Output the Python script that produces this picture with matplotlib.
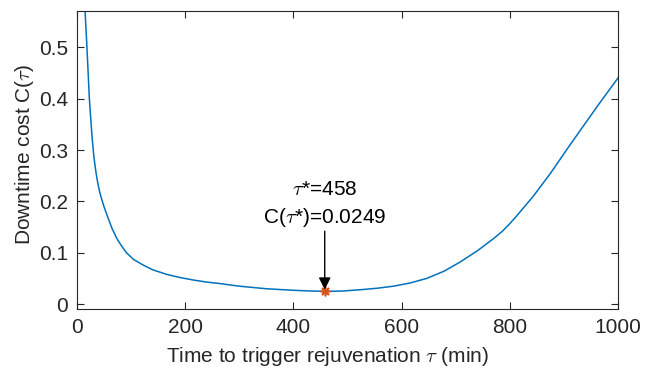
import matplotlib
matplotlib.use("Agg")
from matplotlib import pyplot as plt

# values
tau = [15.3, 18.5, 20.5, 23.3, 26, 28.3, 31, 33.8, 36, 38, 41, 44, 50, 55.4,
       65, 74, 83, 92, 105, 123, 140, 166, 190, 215, 240, 265, 300, 350, 400,
       430, 458, 490, 523, 555, 585, 615, 646, 678, 708, 740, 769, 785, 800,
       815, 843, 875, 905, 935, 966, 1000]
cost = [0.574, 0.509, 0.465, 0.402, 0.360, 0.327, 0.295, 0.270, 0.254, 0.241,
        0.225, 0.212, 0.191, 0.175, 0.148, 0.128, 0.113, 0.100, 0.087, 0.076,
        0.067, 0.058, 0.052, 0.047, 0.043, 0.040, 0.035, 0.030, 0.027,
        0.0257, 0.0249, 0.0255, 0.028, 0.031, 0.035, 0.041, 0.050, 0.064,
        0.082, 0.104, 0.127, 0.141, 0.157, 0.175, 0.210, 0.255, 0.301, 0.346,
        0.392, 0.441]
tau_opt = 458
cost_opt = 0.0249

plt.rcParams['font.family'] = ['Liberation Sans', 'DejaVu Sans']
plt.rcParams['mathtext.fontset'] = 'cm'
dark = '#262626'

fig = plt.figure(figsize=(6.56, 3.73), dpi=100)
ax = fig.add_axes([0.1169, 0.1708, 0.8256, 0.7989])

ax.plot(tau, cost, color='#0072BD', linewidth=1.1)
ax.plot(tau_opt, cost_opt, marker=(8, 2, 0), color='#D95319',
        markersize=7, markeredgewidth=1.2, linestyle='none')

ax.annotate('', xy=(tau_opt, cost_opt + 0.0035), xytext=(tau_opt, 0.142),
            arrowprops=dict(arrowstyle='-|>', color='black', lw=1.0,
                            mutation_scale=18, shrinkA=0, shrinkB=0))
ax.text(tau_opt, 0.224, r'$\tau$*=458', ha='center', va='center',
        fontsize=15, color='black')
ax.text(tau_opt, 0.168, r'C($\tau$*)=0.0249', ha='center', va='center',
        fontsize=15, color='black')

ax.set_xlim(0, 1000)
ax.set_ylim(-0.01, 0.57)
ax.set_xticks([0, 200, 400, 600, 800, 1000])
ax.set_yticks([0, 0.1, 0.2, 0.3, 0.4, 0.5])
ax.set_yticklabels(['0', '0.1', '0.2', '0.3', '0.4', '0.5'])
ax.tick_params(direction='in', top=True, right=True, length=5, width=0.8,
               labelsize=15, colors=dark, pad=6)
for s in ax.spines.values():
    s.set_color(dark)
    s.set_linewidth(0.8)

ax.set_xlabel(r'Time to trigger rejuvenation $\tau$ (min)', fontsize=15,
              color=dark)
ax.set_ylabel(r'Downtime cost C($\tau$)', fontsize=15, color=dark)
ax.xaxis.set_label_coords(0.463, -0.12)
ax.yaxis.set_label_coords(-0.076, 0.52)

plt.savefig('out.png', dpi=100)
plt.close()
